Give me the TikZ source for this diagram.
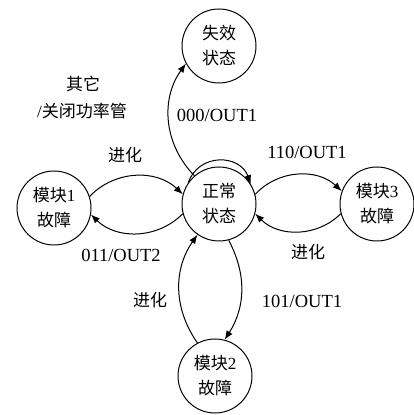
\documentclass[tikz,border=0pt]{standalone}
\usepackage{fontspec}
\setmainfont{Liberation Serif}
\newfontfamily\cjk{Noto Sans CJK SC}
\usetikzlibrary{arrows.meta}
\begin{document}
\begin{tikzpicture}[x=1pt,y=1pt,line width=1pt,
  state/.style={circle,draw,minimum size=74pt,inner sep=0pt,align=center,font=\fontsize{17}{25}\selectfont},
  lbl/.style={inner sep=0pt,align=center,font=\fontsize{17}{26}\selectfont},
  num/.style={inner sep=0pt,align=center,font=\fontsize{18.5}{26}\selectfont},
  arr/.style={-{Latex[length=9pt,width=7pt]}}]
\useasboundingbox (0,0) rectangle (414,415);
\node[state] (f)  at (219,369) {{\cjk 失效}\\{\cjk 状态}};
\node[state] (n)  at (219,211) {{\cjk 正常}\\{\cjk 状态}};
\node[state] (m1) at (54,207)  {{\cjk 模块}1\\{\cjk 故障}};
\node[state] (m3) at (377,211) {{\cjk 模块}3\\{\cjk 故障}};
\node[state] (m2) at (215,39)  {{\cjk 模块}2\\{\cjk 故障}};

\draw[arr] (m1.18) to[bend left=45] (n.165);
\draw[arr] (n.195) to[bend left=45] (m1.-10);
\draw[arr] (n.15) to[bend left=45] (m3.160);
\draw[arr] (m3.195) to[bend left=45] (n.-15);
\draw[arr] (n.-75) to[bend left=30] (m2.75);
\draw[arr] (m2.118) to[bend left=35] (n.235);
\draw[arr] (n.131) to[bend left=40] (f.208);
\draw[arr] (n.145) to[out=70,in=110,looseness=1.3] (n.32);

\node[lbl] (l1) at (83,331) {\cjk 其它};
\node[lbl] (l2) at (82,304) {/{\cjk 关闭功率管}};
\node[lbl] (l3) at (125,260) {\cjk 进化};
\node[num] (l4) at (217,300) {000/OUT1};
\node[num] (l5) at (307,263) {110/OUT1};
\node[num] (l6) at (121,160) {011/OUT2};
\node[lbl] (l7) at (308,163) {\cjk 进化};
\node[lbl] (l8) at (150,115) {\cjk 进化};
\node[num] (l9) at (302,114) {101/OUT1};
\end{tikzpicture}
\end{document}
